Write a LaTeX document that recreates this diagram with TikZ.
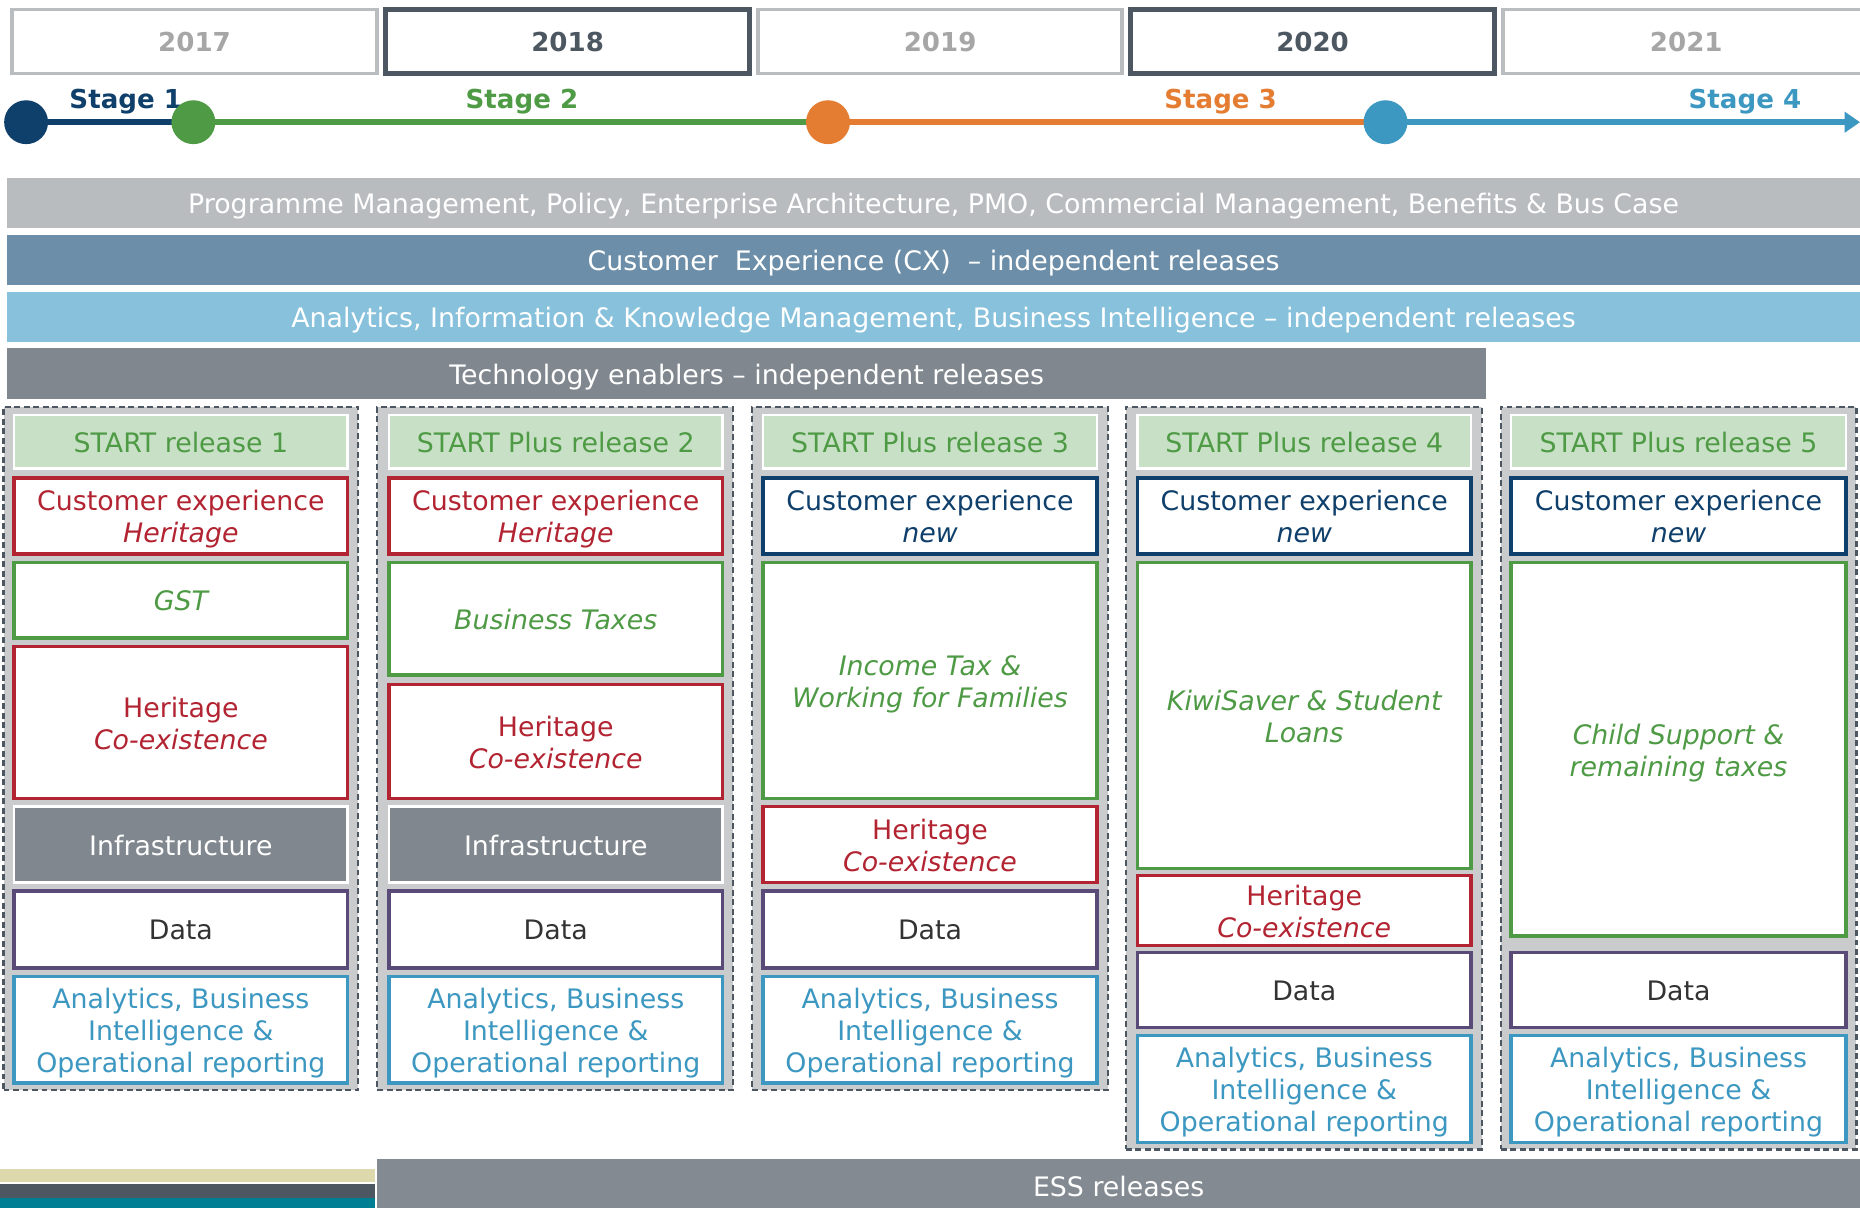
\documentclass[tikz,border=0pt]{standalone}
\usepackage{fontspec}
\setmainfont{DejaVu Sans}
\usetikzlibrary{arrows.meta}
\definecolor{cNavy}{HTML}{0F3F6B}
\definecolor{cGreen}{HTML}{4E9A45}
\definecolor{cOrange}{HTML}{E47D32}
\definecolor{cBlue}{HTML}{3C97C1}
\definecolor{cLgray}{HTML}{B9BDC0}
\definecolor{cYtxt}{HTML}{A6A6A6}
\definecolor{cDgray}{HTML}{4D5761}
\definecolor{cBarA}{HTML}{B8BCBF}
\definecolor{cBarB}{HTML}{6C8EA8}
\definecolor{cBarC}{HTML}{87C1DC}
\definecolor{cBarD}{HTML}{80878E}
\definecolor{cCol}{HTML}{C9CBCD}
\definecolor{cHdr}{HTML}{C8E1C6}
\definecolor{cRed}{HTML}{B32432}
\definecolor{cPurp}{HTML}{5A4A78}
\definecolor{cText}{HTML}{333333}
\definecolor{cEss}{HTML}{838A91}
\definecolor{cBeige}{HTML}{DED8AD}
\definecolor{cTeal}{HTML}{007F94}
% box: name, x1, y1, x2, y2, style, text
\newcommand\bx[7]{%
  \node[#6, minimum width={(#4-#2)*1pt}, minimum height={(#5-#3)*1pt}] (#1) at ({(#2+#4)/2},{(#3+#5)/2}) {};
  \node[#6, draw=none, fill=none, yshift=-3pt] (#1t) at (#1.center) {#7\vphantom{g}};}
\begin{document}
\begin{tikzpicture}[x=1pt,y=-1pt,
  every node/.style={font=\fontsize{22.6}{27}\selectfont, inner sep=0pt, outer sep=0pt, align=center},
  yrl/.style={draw=cLgray, line width=3pt, text=cYtxt, font=\fontsize{22}{26}\selectfont\bfseries},
  yrd/.style={draw=cDgray, line width=4pt, text=cDgray, font=\fontsize{22}{26}\selectfont\bfseries},
  stg/.style={font=\fontsize{22}{26}\selectfont\bfseries},
  dot/.style={circle, minimum size=37pt},
  bar/.style={text=white},
  colbox/.style={draw=cDgray, dash pattern=on 5pt off 3pt, line width=1.8pt, fill=cCol},
  hdr/.style={fill=cHdr, draw=white, line width=2pt, text=cGreen},
  redb/.style={draw=cRed, line width=3pt, fill=white, text=cRed},
  navb/.style={draw=cNavy, line width=3pt, fill=white, text=cNavy},
  grnb/.style={draw=cGreen, line width=3pt, fill=white, text=cGreen},
  infb/.style={fill=cBarD, draw=white, line width=2pt, text=white},
  datb/.style={draw=cPurp, line width=3pt, fill=white, text=cText},
  anab/.style={draw=cBlue, line width=3pt, fill=white, text=cBlue},
  tl/.style={line width=5pt}
]
\useasboundingbox (0,0) rectangle (1568,1018);
% years
\bx{y17}{10}{8}{318}{62}{yrl}{2017}
\bx{y18}{325}{8}{632}{62}{yrd}{2018}
\bx{y19}{639}{8}{946}{62}{yrl}{2019}
\bx{y20}{953}{8}{1260}{62}{yrd}{2020}
\bx{y21}{1267}{8}{1576}{62}{yrl}{2021}
% timeline
\node[stg, text=cNavy] (st1) at (106,86) {Stage 1};
\node[stg, text=cGreen] (st2) at (440,86) {Stage 2};
\node[stg, text=cOrange] (st3) at (1029,86) {Stage 3};
\node[stg, text=cBlue] (st4) at (1471,86) {Stage 4};
\coordinate (p1) at (22,103);
\coordinate (p2) at (163,103);
\coordinate (p3) at (698,103);
\coordinate (p4) at (1168,103);
\coordinate (pend) at (1568,103);
\draw[tl, cNavy] (p1) -- (p2);
\draw[tl, cGreen] (p2) -- (p3);
\draw[tl, cOrange] (p3) -- (p4);
\draw[tl, cBlue, -{Triangle[length=13pt,width=17pt]}] (p4) -- (pend);
\node[dot, fill=cNavy] (d1) at (p1) {};
\node[dot, fill=cGreen] (d2) at (p2) {};
\node[dot, fill=cOrange] (d3) at (p3) {};
\node[dot, fill=cBlue] (d4) at (p4) {};
% bars
\bx{bA}{6}{150}{1568}{192}{bar, fill=cBarA}{Programme Management, Policy, Enterprise Architecture, PMO, Commercial Management, Benefits \& Bus Case}
\bx{bB}{6}{198}{1568}{240}{bar, fill=cBarB}{Customer\ \ Experience (CX)\ \ – independent releases}
\bx{bC}{6}{246}{1568}{288}{bar, fill=cBarC}{Analytics, Information \& Knowledge Management, Business Intelligence – independent releases}
\bx{bD}{6}{293}{1253}{336}{bar, fill=cBarD}{Technology enablers – independent releases}
% columns
\bx{col1}{3}{343}{302}{919}{colbox}{}
\bx{col2}{318}{343}{618}{919}{colbox}{}
\bx{col3}{634}{343}{934}{919}{colbox}{}
\bx{col4}{949}{343}{1249}{969}{colbox}{}
\bx{col5}{1265}{343}{1565}{969}{colbox}{}
% column 1
\bx{h1}{12}{350}{293}{395}{hdr}{START release 1}
\bx{cx1}{12}{403}{293}{467}{redb}{Customer experience\\\itshape Heritage}
\bx{t1}{12}{474}{293}{538}{grnb}{\itshape GST}
\bx{he1}{12}{545}{293}{673}{redb}{Heritage\\\itshape Co-existence}
\bx{in1}{12}{680}{293}{744}{infb}{Infrastructure}
\bx{da1}{12}{751}{293}{816}{datb}{Data}
\bx{an1}{12}{823}{293}{913}{anab}{Analytics, Business\\Intelligence \&\\Operational reporting}
% column 2
\bx{h2}{328}{350}{609}{395}{hdr}{START Plus release 2}
\bx{cx2}{328}{403}{609}{467}{redb}{Customer experience\\\itshape Heritage}
\bx{t2}{328}{474}{609}{569}{grnb}{\itshape Business Taxes}
\bx{he2}{328}{577}{609}{673}{redb}{Heritage\\\itshape Co-existence}
\bx{in2}{328}{680}{609}{744}{infb}{Infrastructure}
\bx{da2}{328}{751}{609}{816}{datb}{Data}
\bx{an2}{328}{823}{609}{913}{anab}{Analytics, Business\\Intelligence \&\\Operational reporting}
% column 3
\bx{h3}{643}{350}{925}{395}{hdr}{START Plus release 3}
\bx{cx3}{643}{403}{925}{467}{navb}{Customer experience\\\itshape new}
\bx{t3}{643}{474}{925}{673}{grnb}{\itshape Income Tax \&\\\itshape Working for Families}
\bx{he3}{643}{680}{925}{744}{redb}{Heritage\\\itshape Co-existence}
\bx{da3}{643}{751}{925}{816}{datb}{Data}
\bx{an3}{643}{823}{925}{913}{anab}{Analytics, Business\\Intelligence \&\\Operational reporting}
% column 4
\bx{h4}{959}{350}{1240}{395}{hdr}{START Plus release 4}
\bx{cx4}{959}{403}{1240}{467}{navb}{Customer experience\\\itshape new}
\bx{t4}{959}{474}{1240}{732}{grnb}{\itshape KiwiSaver \& Student\\\itshape Loans}
\bx{he4}{959}{738}{1240}{797}{redb}{Heritage\\\itshape Co-existence}
\bx{da4}{959}{803}{1240}{866}{datb}{Data}
\bx{an4}{959}{873}{1240}{963}{anab}{Analytics, Business\\Intelligence \&\\Operational reporting}
% column 5
\bx{h5}{1274}{350}{1556}{395}{hdr}{START Plus release 5}
\bx{cx5}{1274}{403}{1556}{467}{navb}{Customer experience\\\itshape new}
\bx{t5}{1274}{474}{1556}{789}{grnb}{\itshape Child Support \&\\\itshape remaining taxes}
\bx{da5}{1274}{803}{1556}{866}{datb}{Data}
\bx{an5}{1274}{873}{1556}{963}{anab}{Analytics, Business\\Intelligence \&\\Operational reporting}
% bottom
\fill[cEss] (318,977) rectangle (1568,1030);
\node[text=white] (ess) at (943,1000) {ESS releases};
\fill[cBeige] (0,985.5) rectangle (316,996.5);
\fill[cDgray] (0,998) rectangle (316,1009.5);
\fill[cTeal] (0,1009.5) rectangle (316,1030);
\end{tikzpicture}
\end{document}
